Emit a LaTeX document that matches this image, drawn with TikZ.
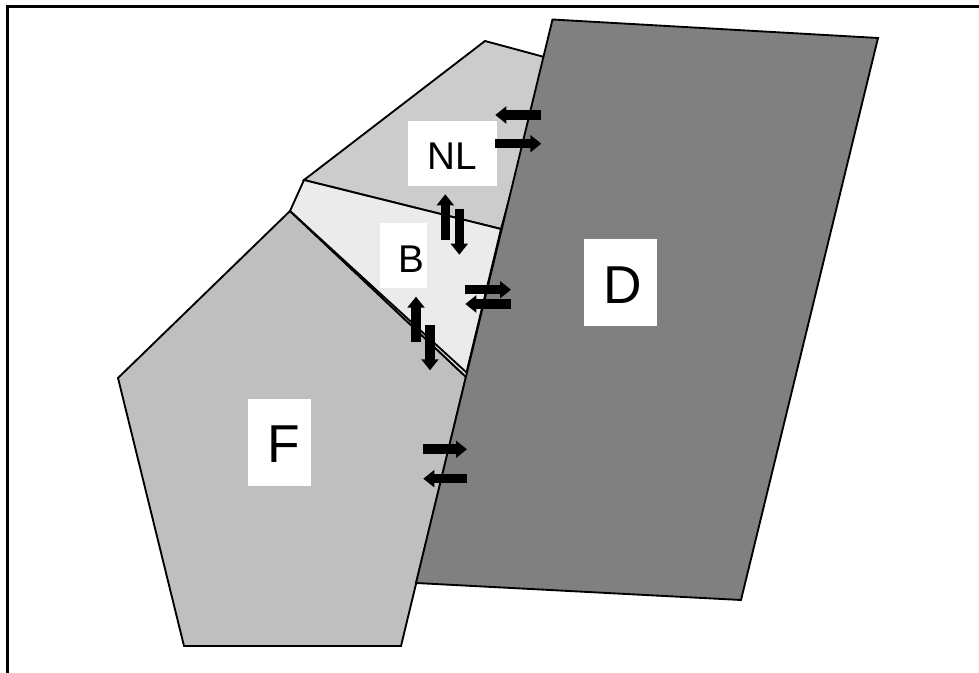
\documentclass[tikz,border=0pt]{standalone}
\usepackage{fontspec}
\setmainfont{Liberation Sans}
\usetikzlibrary{arrows.meta}
\tikzset{
  x=0.75pt,y=-0.75pt,
  region/.style={draw=black,line width=1.4pt,line join=miter},
  smalltext/.style={font=\fontsize{29}{32}\selectfont,inner sep=0pt},
  bigtext/.style={font=\fontsize{40}{44}\selectfont,inner sep=0pt},
  flux/.style={line width=7.2pt,line cap=butt,-{Triangle[length=8.25pt,width=12.6pt]}}
}
\begin{document}
\begin{tikzpicture}
\useasboundingbox (0,0) rectangle (979,673);
\fill[white] (0,0) rectangle (979,673);
\draw[line width=2.25pt,line cap=butt,line join=miter] (7.5,673) -- (7.5,6.5) -- (979,6.5);
% corners
\coordinate (dA) at (552.5,19.5);
\coordinate (dB) at (878,38);
\coordinate (dC) at (741,600);
\coordinate (dD) at (416,583);
\coordinate (nA) at (485,41);
\coordinate (nB) at (548,58);
\coordinate (nC) at (501,229);
\coordinate (nD) at (304,180);
\coordinate (bA) at (290,211);
\coordinate (bB) at (466.5,372.5);
\coordinate (fA) at (118,378);
\coordinate (fB) at (184,646);
\coordinate (fC) at (401,646);
\coordinate (fD) at (466,377);
% regions
\draw[region,fill=black!25] (bA) -- (fD) -- (fC) -- (fB) -- (fA) -- cycle;
\fill[black!8] (bA) -- (bB) -- (fD) -- cycle;
\draw[region,fill=black!20] (nA) -- (nB) -- (nC) -- (nD) -- cycle;
\draw[region,fill=black!8] (nD) -- (nC) -- (bB) -- (bA) -- cycle;
\draw[region] (bA) -- (fD);
\draw[region,fill=black!50] (dA) -- (dB) -- (dC) -- (dD) -- cycle;
% label boxes
\fill[white] (408,121) rectangle (497,186);
\fill[white] (380,223) rectangle (427,288);
\fill[white] (584,239) rectangle (657,326);
\fill[white] (248,399) rectangle (311,486);
\node[smalltext] (nl) at (452,156) {NL};
\node[smalltext] (b) at (411,259) {B};
\node[bigtext] (d) at (623,285) {D};
\node[bigtext] (f) at (284,444) {F};
% arrows
\coordinate (a1s) at (541.3,115);   \coordinate (a1e) at (495.3,115);
\coordinate (a2s) at (495.3,143.7); \coordinate (a2e) at (541.3,143.7);
\coordinate (a3s) at (445.3,240.3); \coordinate (a3e) at (445.3,194.3);
\coordinate (a4s) at (459.3,208.7); \coordinate (a4e) at (459.3,254.7);
\coordinate (a5s) at (465.3,289.7); \coordinate (a5e) at (511,289.7);
\coordinate (a6s) at (511,304);     \coordinate (a6e) at (465.3,304);
\coordinate (a7s) at (416,342.3);   \coordinate (a7e) at (416,296.7);
\coordinate (a8s) at (430,324.7);   \coordinate (a8e) at (430,370.3);
\coordinate (a9s) at (423.3,449.3); \coordinate (a9e) at (467,449.3);
\coordinate (a10s) at (467,478.7);  \coordinate (a10e) at (423.3,478.7);
\foreach \i in {1,...,10} \draw[flux] (a\i s) -- (a\i e);
\end{tikzpicture}
\end{document}
